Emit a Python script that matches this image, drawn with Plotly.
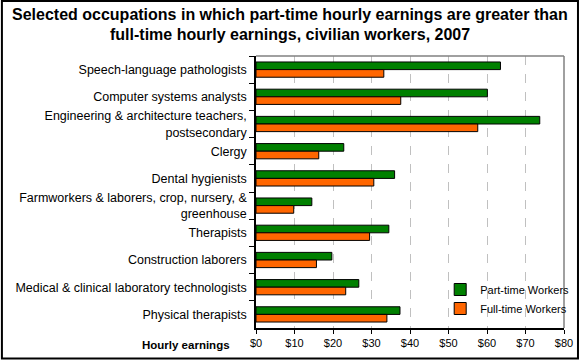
import plotly.graph_objects as go

categories = [
    "Speech-language pathologists",
    "Computer systems analysts",
    "Engineering & architecture teachers,<br>postsecondary",
    "Clergy",
    "Dental hygienists",
    "Farmworkers & laborers, crop, nursery, &<br>greenhouse",
    "Therapists",
    "Construction laborers",
    "Medical & clinical laboratory technologists",
    "Physical therapists",
]
part_time = [63.5, 60.1, 73.7, 22.8, 36.0, 14.5, 34.5, 19.7, 26.7, 37.4]
full_time = [33.2, 37.6, 57.6, 16.3, 30.6, 9.8, 29.5, 15.7, 23.3, 34.0]
x_ticks = [0, 10, 20, 30, 40, 50, 60, 70, 80]
x_tick_labels = ["$0", "$10", "$20", "$30", "$40", "$50", "$60", "$70", "$80"]
title_lines = [
    "Selected occupations in which part-time hourly earnings are greater than",
    "full-time hourly earnings, civilian workers, 2007",
]

FONT = "Liberation Sans, Arial, sans-serif"

fig = go.Figure()
fig.add_trace(go.Bar(
    y=categories, x=part_time, orientation="h", name="Part-time Workers",
    marker=dict(color="#008000", line=dict(color="black", width=1)),
))
fig.add_trace(go.Bar(
    y=categories, x=full_time, orientation="h", name="Full-time Workers",
    marker=dict(color="#FF6600", line=dict(color="black", width=1)),
))

L, R, T, B = 255.5, 564, 56, 328
W, H = R - L, B - T

def px(x):
    return (x - L) / W

def py(y):
    return (B - y) / H

shapes = [
    dict(type="rect", xref="paper", yref="paper", x0=px(1), x1=px(578), y0=py(358.5), y1=py(1),
         line=dict(color="black", width=2), layer="below"),
    dict(type="line", xref="paper", yref="paper", x0=0, x1=1, y0=1, y1=1,
         line=dict(color="#808080", width=1.5)),
    dict(type="line", xref="paper", yref="paper", x0=1, x1=1, y0=0, y1=1,
         line=dict(color="#808080", width=1.5)),
]

annotations = [
    dict(text="<b>%s</b>" % title_lines[0], xref="paper", yref="paper",
         x=px(290), y=py(14), xanchor="center", yanchor="middle", showarrow=False,
         font=dict(size=16, color="black")),
    dict(text="<b>%s</b>" % title_lines[1], xref="paper", yref="paper",
         x=px(290), y=py(34), xanchor="center", yanchor="middle", showarrow=False,
         font=dict(size=16, color="black")),
    dict(text="<b>Hourly earnings</b>", xref="paper", yref="paper",
         x=px(231), y=py(345), xanchor="right", yanchor="middle",
         showarrow=False, font=dict(size=11.5, color="black")),
]

fig.update_layout(
    width=580, height=360,
    margin=dict(l=L, r=580 - R, t=T, b=360 - B, autoexpand=False),
    paper_bgcolor="white", plot_bgcolor="white",
    font=dict(family=FONT, size=12, color="black"),
    barmode="group", bargap=0.44, bargroupgap=0,
    xaxis=dict(
        range=[0, 80], tickvals=x_ticks, ticktext=x_tick_labels,
        showgrid=True, gridcolor="#c0c0c0", griddash="dash", gridwidth=1,
        showline=True, linecolor="black", linewidth=1.5,
        ticks="outside", ticklen=4, tickcolor="black",
        zeroline=False, tickfont=dict(size=11), automargin=False,
    ),
    yaxis=dict(
        autorange="reversed", type="category",
        showline=True, linecolor="black", linewidth=1.5,
        ticks="outside", ticklen=5, tickcolor="black", tickson="boundaries",
        ticklabelstandoff=5,
        showgrid=False, tickfont=dict(size=12.5), automargin=False,
    ),
    legend=dict(
        x=px(440), y=py(275), xanchor="left", yanchor="top",
        bgcolor="rgba(0,0,0,0)", font=dict(size=11),
        traceorder="normal", itemwidth=30,
    ),
    shapes=shapes,
    showlegend=True,
    annotations=annotations,
)

fig.write_html(
    "out.html",
    config={"displayModeBar": False},
    post_script="document.body.style.margin='0px';document.body.style.overflow='hidden';",
)
